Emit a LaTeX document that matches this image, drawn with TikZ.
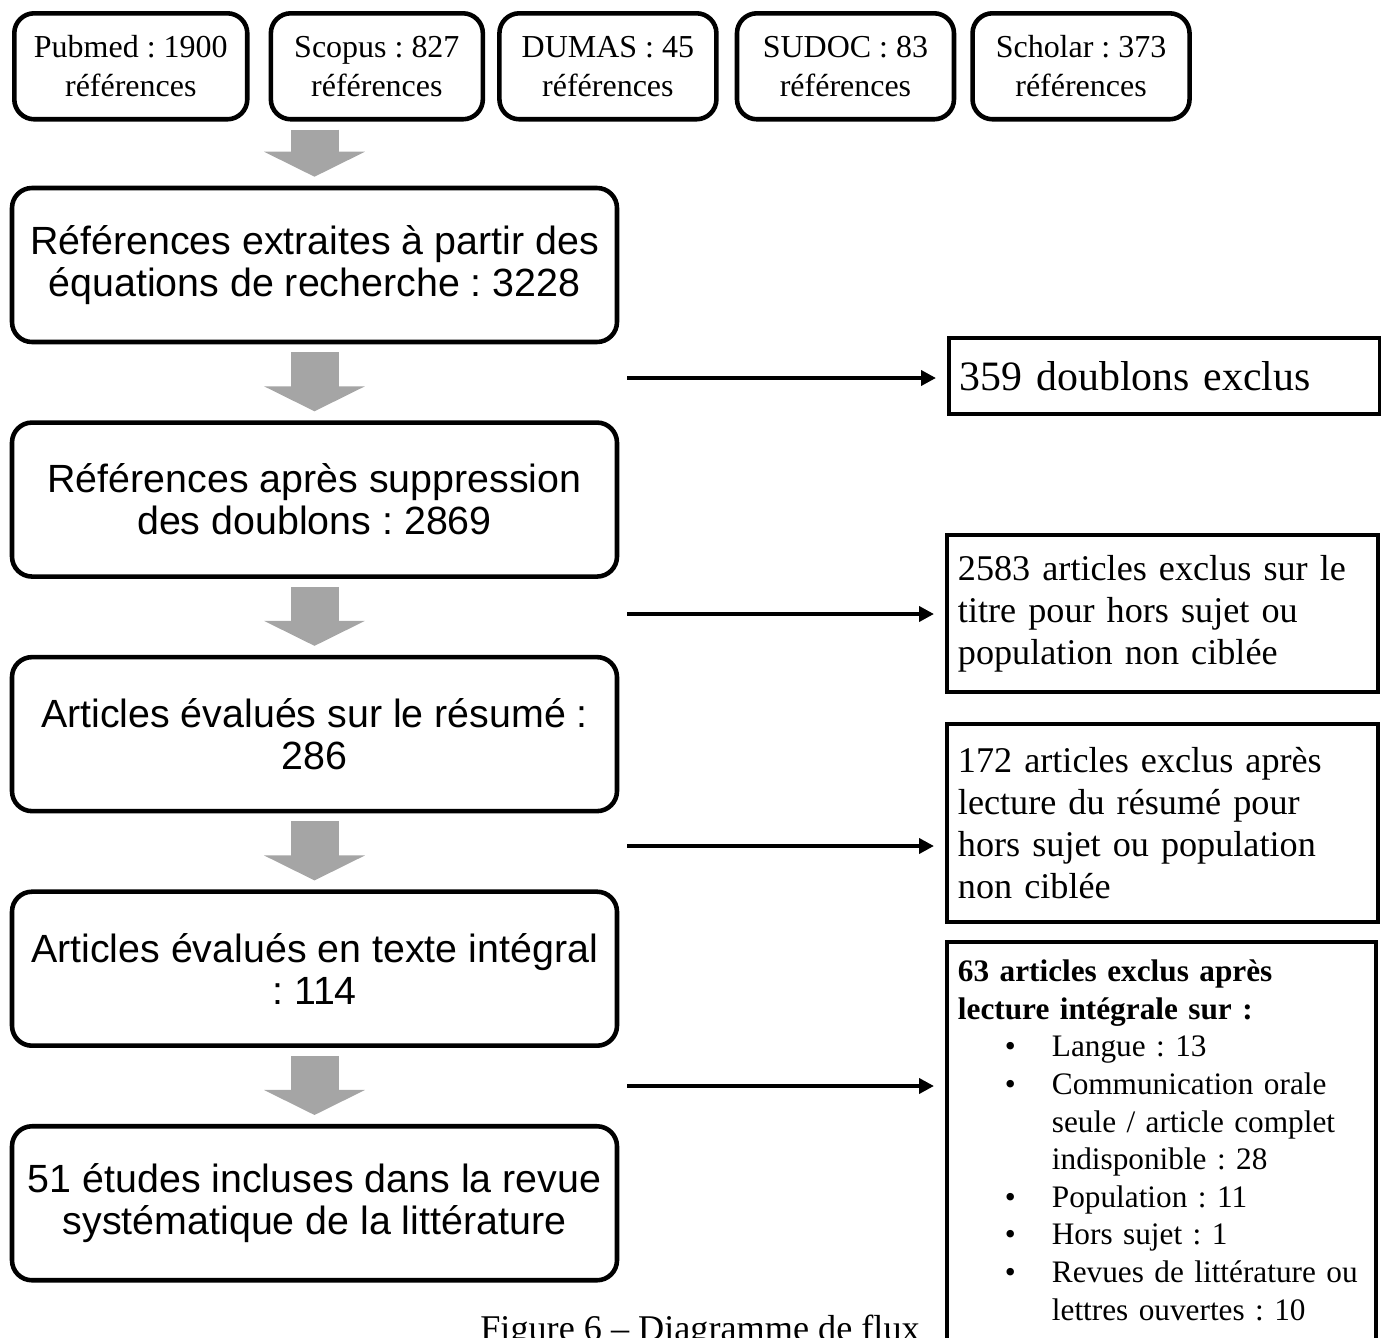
\documentclass[tikz,border=0pt]{standalone}
\usepackage{fontspec}
\setmainfont{Liberation Serif}
\setsansfont{Liberation Sans}
\usetikzlibrary{positioning,arrows.meta}
\definecolor{grisfleche}{HTML}{A5A5A5}
\frenchspacing
\newcommand{\puce}[1]{\par\leavevmode\llap{\textbullet\hspace{3.6mm}}#1}

\begin{document}
\begin{tikzpicture}[x=0.1mm, y=-0.1mm,
		source/.style = {draw, line width=1.3pt, rounded corners=2mm,
			align=center, inner sep=0pt, minimum height=10.6mm,
			font=\fontsize{9.1}{11.1}\selectfont},
		etape/.style = {draw, line width=1.3pt, rounded corners=2mm,
			align=center, minimum width=60.5mm, minimum height=15.4mm,
			font=\sffamily\fontsize{11.2}{12}\selectfont},
		exclu/.style = {draw, line width=1.1pt, anchor=north west,
			align=left, inner xsep=1.1mm, text width=40.9mm,
			font=\fontsize{10.3}{11.95}\selectfont},
		fleche/.style = {draw=grisfleche, line width=4.8mm,
			-{Triangle[width=10mm,length=2.5mm]},
			shorten <=0.8mm, shorten >=0.9mm},
		renvoi/.style = {line width=1.1pt,
			-{Triangle[width=1.5mm,length=1.5mm]}, shorten >=1.1mm}]
	\useasboundingbox (0,0) rectangle (1381,1338);

	\node[source, minimum width=23.3mm, anchor=north west] (pubmed) at (12,11) {Pubmed : 1900\\ références};
	\node[source, minimum width=21.2mm, right=1.9mm of pubmed] (scopus) {Scopus : 827\\ références};
	\node[source, minimum width=21.7mm, right=1.2mm of scopus] (dumas) {DUMAS : 45\\ références};
	\node[source, minimum width=21.7mm, right=1.6mm of dumas] (sudoc) {SUDOC : 83\\ références};
	\node[source, minimum width=21.7mm, right=1.4mm of sudoc] (scholar) {Scholar : 373\\ références};

	\node[etape] (extr) at (314.5,265) {Références extraites à partir des\\ équations de recherche : 3228};
	\node[etape, below=7.6mm of extr] (dedup) {Références après suppression\\ des doublons : 2869};
	\node[etape, below=7.6mm of dedup] (resume) {Articles évalués sur le résumé :\\ 286};
	\node[etape, below=7.6mm of resume] (texte) {Articles évalués en texte intégral\\ : 114};
	\node[etape, below=7.6mm of texte] (incl) {51 études incluses dans la revue\\ systématique de la littérature};

	\node[exclu, minimum height=7.6mm, font=\fontsize{11.9}{12}\selectfont] (dbl) at (947,336) {359 doublons exclus};
	\node[exclu, minimum height=15.7mm] (titre) at (945,533) {2583 articles exclus sur le\\ titre pour hors sujet ou\\ population non ciblée};
	\node[exclu, minimum height=19.8mm] (lect) at (945,722) {172 articles exclus après\\ lecture du résumé pour\\ hors sujet ou population\\ non ciblée};
	\node[exclu, inner ysep=1.8mm, text width=40.7mm, font=\fontsize{8.9}{10.7}\selectfont] (integ) at (945,940) {{\bfseries 63 articles exclus après\\ lecture intégrale sur :}\par
		\leftskip=9.4mm
		\puce{Langue : 13}
		\puce{Communication orale\\ seule / article complet\\ indisponible : 28}
		\puce{Population : 11}
		\puce{Hors sujet : 1}
		\puce{Revues de littérature ou\\ lettres ouvertes : 10\rule[-3mm]{0pt}{0pt}}\par};

	\node[anchor=base, font=\fontsize{10.3}{12}\selectfont] (legende) at (700,1340) {Figure 6 – Diagramme de flux};

	\draw[fleche] (extr.north |- pubmed.south) -- (extr.north);
	\foreach \a/\b in {extr/dedup, dedup/resume, resume/texte, texte/incl}
		\draw[fleche] (\a.south) -- (\b.north);

	\foreach \y/\cible [count=\i] in {378/dbl, 614/titre, 846/lect, 1086/integ} {
		\coordinate (d\i) at (627,\y);
		\draw[renvoi] (d\i) -- (d\i -| \cible.west);
	}
\end{tikzpicture}
\end{document}
